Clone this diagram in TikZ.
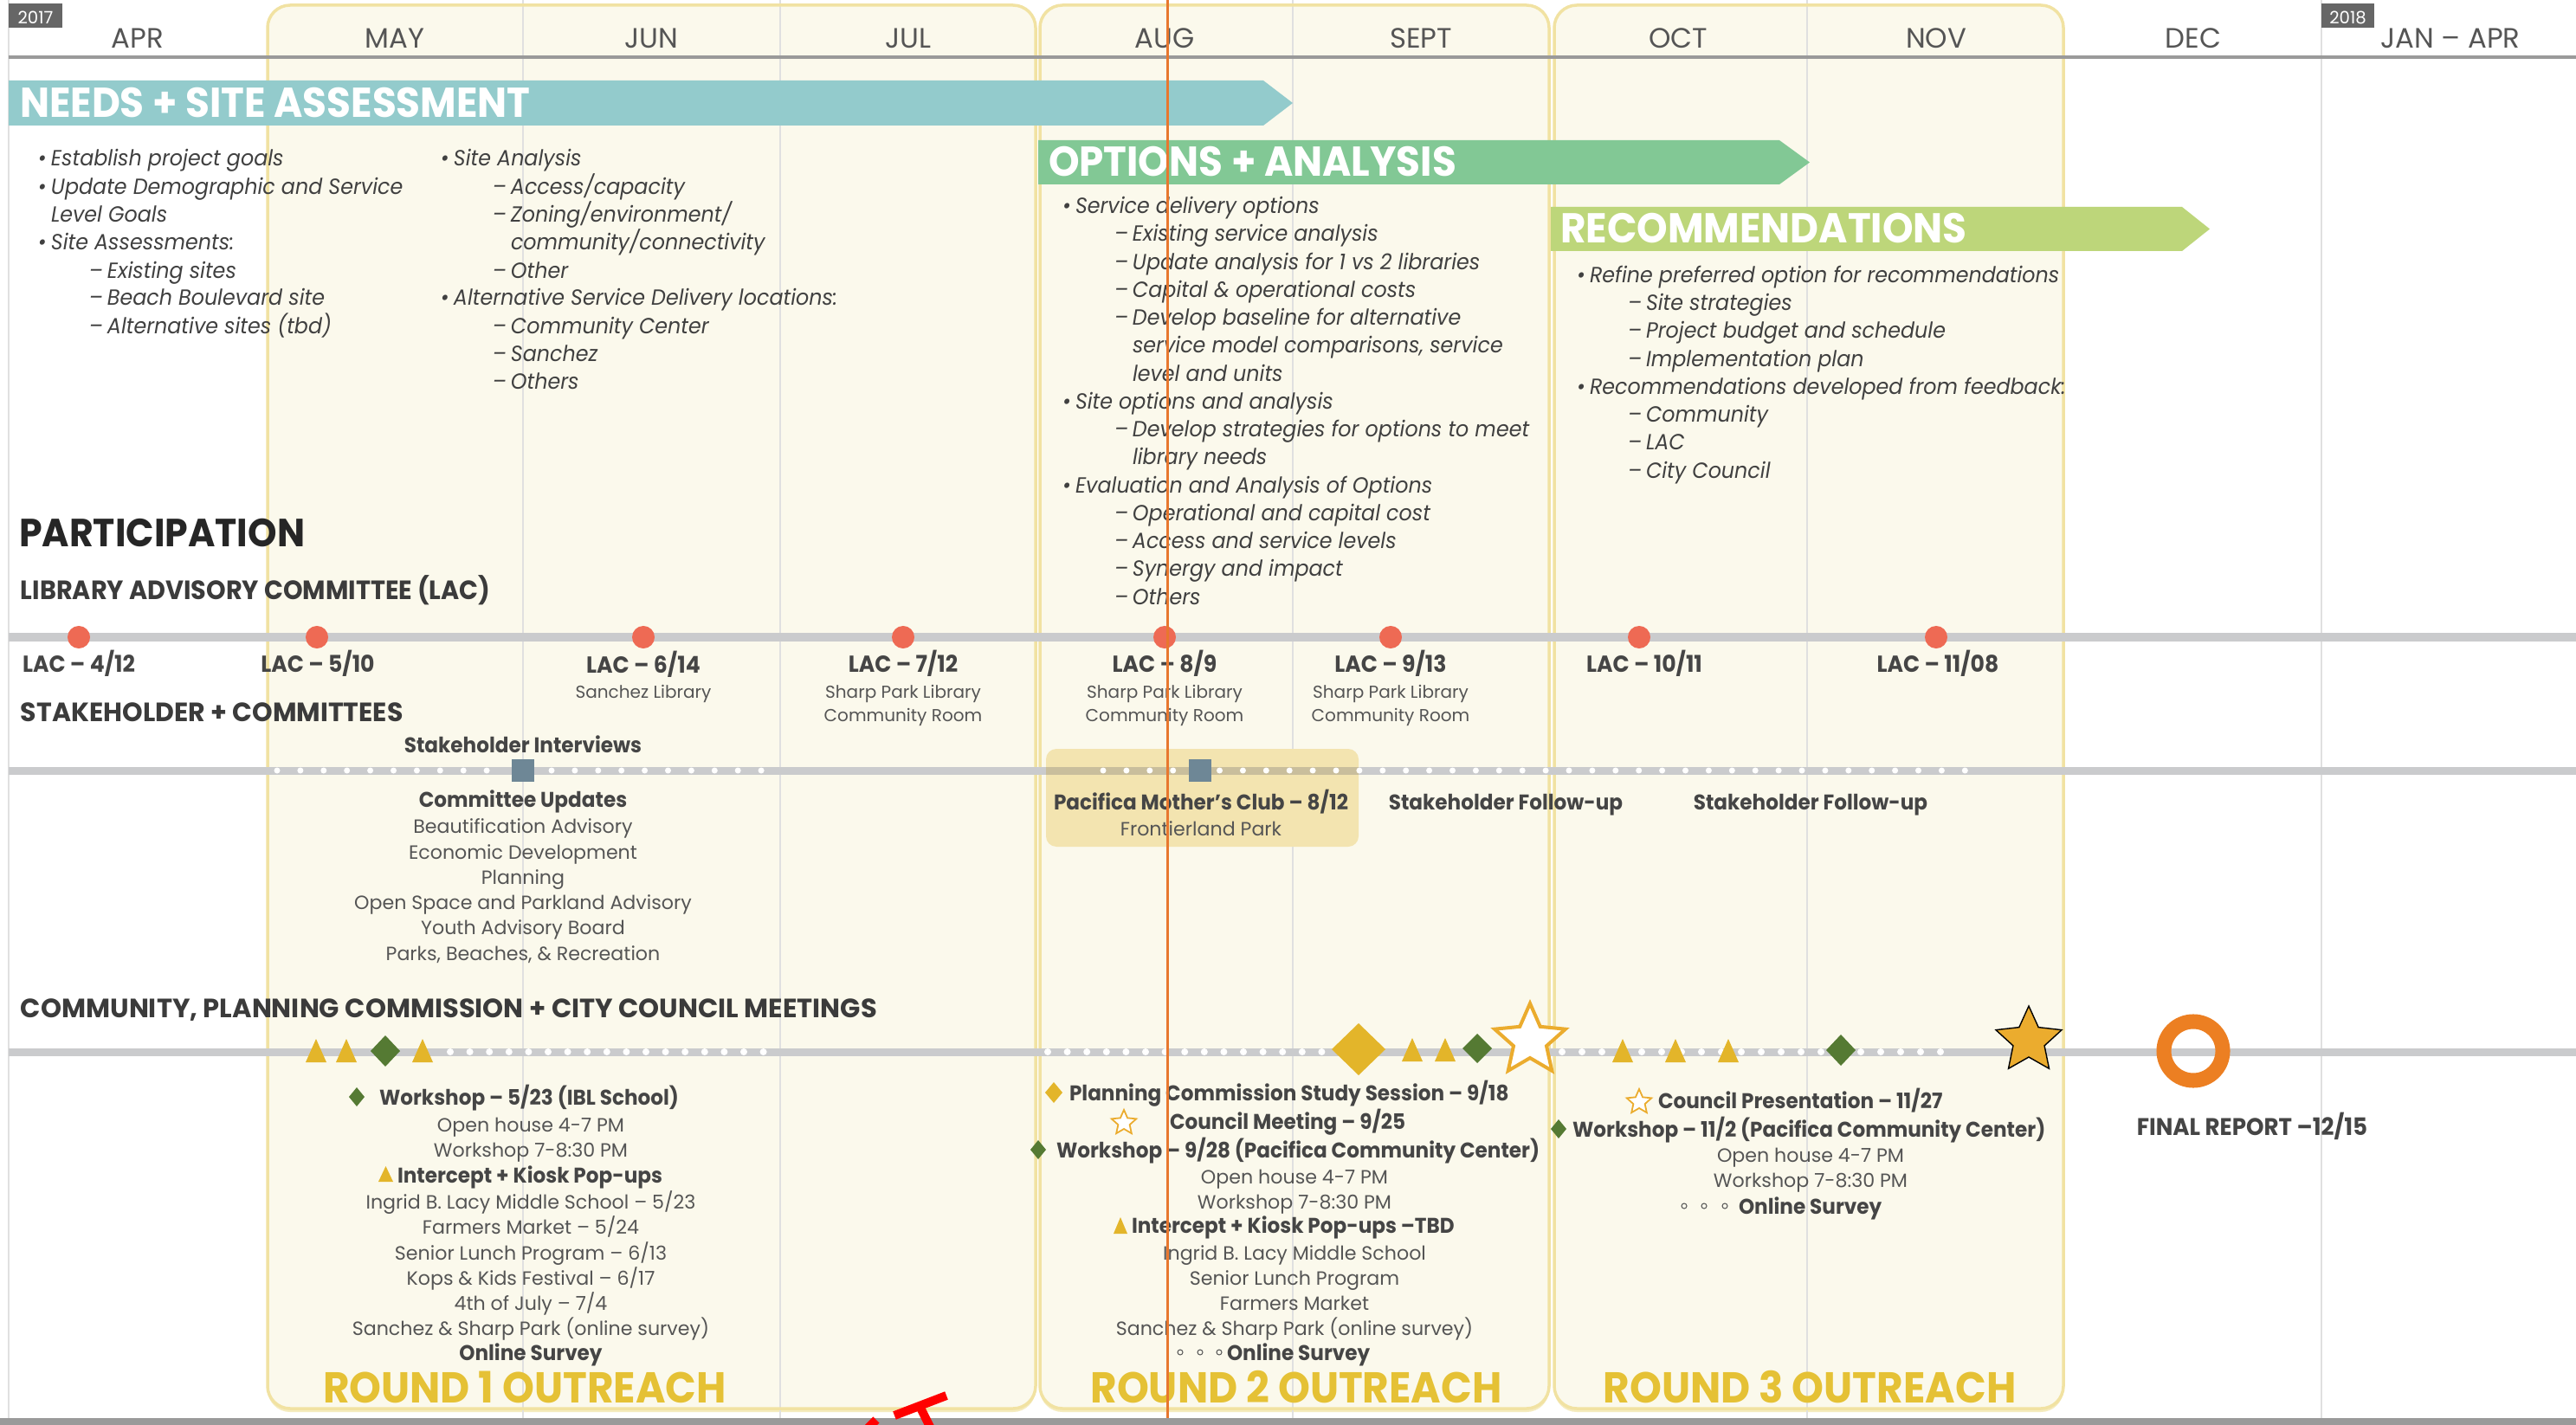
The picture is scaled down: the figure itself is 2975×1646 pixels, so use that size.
\documentclass[tikz,border=0pt]{standalone}
\usepackage{fontspec}
\setmainfont{Poppins}[BoldFeatures={FakeStretch=0.94}, ItalicFeatures={FakeStretch=0.94}]
\usetikzlibrary{shapes.geometric}
\definecolor{cream}{HTML}{FBF9EC}
\definecolor{panelline}{HTML}{F1E2A2}
\definecolor{gridc}{HTML}{E0E0E0}
\definecolor{tealc}{HTML}{93CBCC}
\definecolor{optc}{HTML}{82C895}
\definecolor{recc}{HTML}{BDD67A}
\definecolor{orangeline}{HTML}{E8772E}
\definecolor{barc}{HTML}{CACBCD}
\definecolor{barintan}{HTML}{C9BE9C}
\definecolor{lacred}{HTML}{EE6A54}
\definecolor{slate}{HTML}{6E8796}
\definecolor{tanc}{HTML}{F3E4B0}
\definecolor{goldc}{HTML}{E3B52A}
\definecolor{dgreen}{HTML}{557A33}
\definecolor{stargold}{HTML}{EBAC2E}
\definecolor{ringc}{HTML}{EC7F22}
\definecolor{roundgold}{HTML}{E5C135}
\definecolor{txtdark}{HTML}{404040}
\definecolor{headc}{HTML}{3B3B3B}
\definecolor{labc}{HTML}{454545}
\definecolor{subc}{HTML}{555555}
\definecolor{monthc}{HTML}{555555}
\definecolor{yearc}{HTML}{666666}
\definecolor{hdrline}{HTML}{9A9A9A}
\newcommand\bu{\llap{\makebox[0.15cm][l]{•}}}
\newcommand\da{\llap{\makebox[0.21cm][l]{–}}}
\newcommand\drawstar[5]{\draw[#5] plot[samples at={0,1,...,9}, variable=\k] ({#1+(#3*(1-mod(\k,2))+#4*mod(\k,2))*cos(270+36*\k)}, {#2+(#3*(1-mod(\k,2))+#4*mod(\k,2))*sin(270+36*\k)}) -- cycle;}
\newcommand\diam[5]{\fill[#5] (#1-#3,#2) -- (#1,#2-#4) -- (#1+#3,#2) -- (#1,#2+#4) -- cycle;}
\newcommand\tri[5]{\fill[#5] (#1-#3/2,#2) -- (#1,#2-#4) -- (#1+#3/2,#2) -- cycle;}
\tikzset{
  every node/.style={inner sep=0pt, outer sep=0pt},
  itxt/.style={font=\fontsize{7.2pt}{9pt}\selectfont\itshape, text=txtdark, anchor=mid west},
  month/.style={font=\fontsize{9.2pt}{10pt}\selectfont, text=monthc, anchor=mid},
  yeart/.style={font=\fontsize{5.6pt}{6pt}\selectfont, text=white, anchor=mid},
  banner/.style={font=\fontsize{13.7pt}{15pt}\selectfont\bfseries, text=white, anchor=mid west},
  bighead/.style={font=\fontsize{12.9pt}{14pt}\selectfont\bfseries, text=black!85, anchor=mid west},
  head/.style={font=\fontsize{8.7pt}{10pt}\selectfont\bfseries, text=headc, anchor=mid west},
  laclab/.style={font=\fontsize{7.6pt}{8pt}\selectfont\bfseries, text=labc, anchor=mid},
  sublab/.style={font=\fontsize{5.7pt}{7pt}\selectfont, text=subc, anchor=mid},
  boldc/.style={font=\fontsize{7pt}{8pt}\selectfont\bfseries, text=labc, anchor=mid},
  boldw/.style={font=\fontsize{7pt}{8pt}\selectfont\bfseries, text=labc, anchor=mid west},
  regc/.style={font=\fontsize{6.3pt}{8pt}\selectfont, text=subc, anchor=mid},
  roundt/.style={font=\fontsize{14.2pt}{15pt}\selectfont\bfseries, text=roundgold, anchor=mid},
  finalt/.style={font=\fontsize{7.9pt}{9pt}\selectfont\bfseries, text=labc, anchor=mid},
  lacdot/.style={circle, fill=lacred, minimum size=0.26cm},
  sqmark/.style={rectangle, fill=slate, minimum width=0.26cm, minimum height=0.26cm},
  barline/.style={barc, line width=0.09cm},
  panel/.style={rounded corners=0.26cm},
}
\begin{document}
\begin{tikzpicture}[x=0.01cm,y=-0.01cm]
\useasboundingbox (0,0) rectangle (2975,1646);
\fill[white] (0,0) rectangle (2975,1646);
% panels
\fill[panelline!70, panel] (309,9) rectangle (1196,1631);
\fill[panelline!70, panel] (1201,9) rectangle (1789,1631);
\fill[panelline!70, panel] (1795,9) rectangle (2383,1631);
\fill[cream, panel] (309,6) rectangle (1196,1627);
\fill[cream, panel] (1201,6) rectangle (1789,1627);
\fill[cream, panel] (1795,6) rectangle (2383,1627);
% grid lines
\foreach \gx in {10,604,901,1493,2087,2681} {\draw[gridc, line width=0.015cm] (\gx,0) -- (\gx,1640);}
\draw[panelline, panel, line width=0.035cm] (309,6) rectangle (1196,1627);
\draw[panelline, panel, line width=0.035cm] (1201,6) rectangle (1789,1627);
\draw[panelline, panel, line width=0.035cm] (1795,6) rectangle (2383,1627);
% header
\draw[hdrline, line width=0.04cm] (10,66) -- (2975,66);
\fill[yearc] (10,4) rectangle (72,32);
\node[yeart] (y17) at (41,18) {2017};
\fill[yearc] (2681,4) rectangle (2742,32);
\node[yeart] (y18) at (2711.5,18) {2018};
\node[month] (mapr) at (159,46) {APR};
\node[month] (mmay) at (456,46) {MAY};
\node[month] (mjun) at (752,46) {JUN};
\node[month] (mjul) at (1049,46) {JUL};
\node[month] (maug) at (1345,46) {AUG};
\node[month] (msep) at (1641,46) {SEPT};
\node[month] (moct) at (1938,46) {OCT};
\node[month] (mnov) at (2236,46) {NOV};
\node[month] (mdec) at (2533,46) {DEC};
\node[month] (mjan) at (2830,46) {JAN – APR};
% banners
\fill[tealc] (10,93) -- (1459,93) -- (1493,119) -- (1459,145) -- (10,145) -- cycle;
\node[banner] (bneeds) at (23,126) {NEEDS + SITE ASSESSMENT};
\fill[optc] (1199,162) -- (2055,162) -- (2090,187.5) -- (2055,213) -- (1199,213) -- cycle;
\node[banner] (bopt) at (1211,194) {OPTIONS + ANALYSIS};
\fill[recc] (1791,239) -- (2520,239) -- (2552,264.5) -- (2520,290) -- (1791,290) -- cycle;
\node[banner] (brec) at (1802,271) {RECOMMENDATIONS};
% needs lists
\node[itxt] (n1) at (59,182) {\bu Establish project goals};
\node[itxt] (n2) at (59,215) {\bu Update Demographic and Service};
\node[itxt] (n3) at (59,247) {Level Goals};
\node[itxt] (n4) at (59,279) {\bu Site Assessments:};
\node[itxt] (n5) at (124,312) {\da Existing sites};
\node[itxt] (n6) at (124,343) {\da Beach Boulevard site};
\node[itxt] (n7) at (124,376) {\da Alternative sites (tbd)};
\node[itxt] (s1) at (524,182) {\bu Site Analysis};
\node[itxt] (s2) at (590,215) {\da Access/capacity};
\node[itxt] (s3) at (590,247) {\da Zoning/environment/};
\node[itxt] (s4) at (590,279) {community/connectivity};
\node[itxt] (s5) at (590,312) {\da Other};
\node[itxt] (s6) at (524,343) {\bu Alternative Service Delivery locations:};
\node[itxt] (s7) at (590,376) {\da Community Center};
\node[itxt] (s8) at (590,408) {\da Sanchez};
\node[itxt] (s9) at (590,440) {\da Others};
% options list
\node[itxt] (o1) at (1242,237) {\bu Service delivery options};
\node[itxt] (o2) at (1308,269) {\da Existing service analysis};
\node[itxt] (o3) at (1308,302) {\da Update analysis for 1 vs 2 libraries};
\node[itxt] (o4) at (1308,334) {\da Capital \& operational costs};
\node[itxt] (o5) at (1308,366) {\da Develop baseline for alternative};
\node[itxt] (o6) at (1308,398) {service model comparisons, service};
\node[itxt] (o7) at (1308,431) {level and units};
\node[itxt] (o8) at (1242,463) {\bu Site options and analysis};
\node[itxt] (o9) at (1308,495) {\da Develop strategies for options to meet};
\node[itxt] (o10) at (1308,527) {library needs};
\node[itxt] (o11) at (1242,560) {\bu Evaluation and Analysis of Options};
\node[itxt] (o12) at (1308,592) {\da Operational and capital cost};
\node[itxt] (o13) at (1308,624) {\da Access and service levels};
\node[itxt] (o14) at (1308,656) {\da Synergy and impact};
\node[itxt] (o15) at (1308,689) {\da Others};
% recommendations list
\node[itxt] (r1) at (1836,317) {\bu Refine preferred option for recommendations};
\node[itxt] (r2) at (1901,349) {\da Site strategies};
\node[itxt] (r3) at (1901,381) {\da Project budget and schedule};
\node[itxt] (r4) at (1901,414) {\da Implementation plan};
\node[itxt] (r5) at (1836,446) {\bu Recommendations developed from feedback:};
\node[itxt] (r6) at (1901,478) {\da Community};
\node[itxt] (r7) at (1901,510) {\da LAC};
\node[itxt] (r8) at (1901,543) {\da City Council};
% participation
\node[bighead] (part) at (22,622) {PARTICIPATION};
\node[head] (hlac) at (24,683) {LIBRARY ADVISORY COMMITTEE (LAC)};
\node[head] (hstk) at (24,824) {\scalebox{1.044}[1]{STAKEHOLDER + COMMITTEES}};
\node[head] (hcom) at (24,1166) {\scalebox{1.063}[1]{COMMUNITY, PLANNING COMMISSION + CITY COUNCIL MEETINGS}};
% LAC line
\draw[barline] (10,736) -- (2975,736);
\node[lacdot] (d1) at (91,736) {};
\node[lacdot] (d2) at (366,736) {};
\node[lacdot] (d3) at (743,736) {};
\node[lacdot] (d4) at (1043,736) {};
\node[lacdot] (d5) at (1345,736) {};
\node[lacdot] (d6) at (1606,736) {};
\node[lacdot] (d7) at (1893,736) {};
\node[lacdot] (d8) at (2236,736) {};
\node[laclab] (l1) at (91,767) {LAC – 4/12};
\node[laclab] (l2) at (367,767) {LAC – 5/10};
\node[laclab] (l3) at (743,768) {LAC – 6/14};
\node[sublab] (l3a) at (743,797) {Sanchez Library};
\node[laclab] (l4) at (1043,767) {LAC – 7/12};
\node[sublab] (l4a) at (1043,797) {Sharp Park Library};
\node[sublab] (l4b) at (1043,824) {Community Room};
\node[laclab] (l5) at (1345,767) {LAC – 8/9};
\node[sublab] (l5a) at (1345,797) {Sharp Park Library};
\node[sublab] (l5b) at (1345,824) {Community Room};
\node[laclab] (l6) at (1606,767) {LAC – 9/13};
\node[sublab] (l6a) at (1606,797) {Sharp Park Library};
\node[sublab] (l6b) at (1606,824) {Community Room};
\node[laclab] (l7) at (1899,767) {LAC – 10/11};
\node[laclab] (l8) at (2238,767) {LAC – 11/08};
% stakeholder line
\draw[barline] (10,890) -- (2975,890);
\fill[tanc, rounded corners=0.12cm] (1208,865) rectangle (1569,978);
\draw[barintan, line width=0.09cm] (1208,890) -- (1569,890);
\foreach \k in {0,...,9} {\fill[white] ({320+26.9*\k},890) circle (0.035cm);}
\foreach \k in {0,...,9} {\fill[white] ({637+26.9*\k},890) circle (0.035cm);}
\foreach \k in {0,1,2,3,5,6,7,8,9,10,11,12,13,14,15,16,17,18,19,20,21,22,23,24,25,26,27,28,29,30,31,32,33,34,35,36,37} {\fill[white] ({1274+26.9*\k},890) circle (0.035cm);}
\node[sqmark] (sq1) at (604,890) {};
\node[sqmark] (sq2) at (1385.5,890) {};
\node[boldc] (si) at (604,860) {Stakeholder Interviews};
\node[boldc] (cu) at (604,923) {Committee Updates};
\node[regc] (cu1) at (604,953) {Beautification Advisory};
\node[regc] (cu2) at (604,983) {Economic Development};
\node[regc] (cu3) at (604,1012) {Planning};
\node[regc] (cu4) at (604,1041) {Open Space and Parkland Advisory};
\node[regc] (cu5) at (604,1070) {Youth Advisory Board};
\node[regc] (cu6) at (604,1100) {Parks, Beaches, \& Recreation};
\node[boldc] (pmc) at (1387,926) {Pacifica Mother’s Club – 8/12};
\node[regc] (pmc2) at (1387,956) {Frontierland Park};
\node[boldc] (sf1) at (1739,926) {Stakeholder Follow-up};
\node[boldc] (sf2) at (2091,926) {Stakeholder Follow-up};
% community line
\draw[barline] (10,1215) -- (2975,1215);
\foreach \k in {0,...,16} {\fill[white] ({520+22.6*\k},1215) circle (0.04cm);}
\foreach \k in {0,...,14} {\fill[white] ({1210+22.6*\k},1215) circle (0.04cm);}
\foreach \k in {0,...,19} {\fill[white] ({1804+23*\k},1215) circle (0.04cm);}
\tri{365}{1227}{24}{27}{goldc}
\tri{400}{1227}{24}{27}{goldc}
\diam{445}{1214}{17}{18}{dgreen}
\tri{488}{1227}{24}{27}{goldc}
\diam{1569}{1212}{31}{30}{goldc}
\tri{1631}{1226}{24}{27}{goldc}
\tri{1669}{1226}{24}{27}{goldc}
\diam{1706}{1211}{17}{17}{dgreen}
\drawstar{1767}{1202}{43}{20}{fill=white, draw=stargold, line width=0.04cm}
\tri{1874}{1227}{24}{27}{goldc}
\tri{1935}{1227}{24}{27}{goldc}
\tri{1996}{1227}{24}{27}{goldc}
\diam{2126}{1213}{17}{18}{dgreen}
\drawstar{2343}{1202}{40}{19}{fill=stargold}
\draw[ringc, line width=0.17cm] (2533,1214) circle (0.34cm);
% round 1 text
\diam{412}{1267}{9}{11}{dgreen}
\node[boldw] (w1) at (438,1267) {Workshop – 5/23 (IBL School)};
\node[regc] (w1a) at (613,1298) {Open house 4-7 PM};
\node[regc] (w1b) at (613,1327) {Workshop 7-8:30 PM};
\tri{445.5}{1365}{17}{18}{goldc}
\node[boldw] (k1) at (459,1357) {Intercept + Kiosk Pop-ups};
\node[regc] (k1a) at (613,1387) {Ingrid B. Lacy Middle School – 5/23};
\node[regc] (k1b) at (613,1416) {Farmers Market – 5/24};
\node[regc] (k1c) at (613,1446) {Senior Lunch Program – 6/13};
\node[regc] (k1d) at (613,1475) {Kops \& Kids Festival – 6/17};
\node[regc] (k1e) at (613,1504) {4th of July – 7/4};
\node[regc] (k1f) at (613,1533) {Sanchez \& Sharp Park (online survey)};
\node[boldc] (os1) at (613,1562) {Online Survey};
\node[roundt] (rd1) at (606,1611) {ROUND 1 OUTREACH};
% round 2 text
\diam{1217}{1262}{10}{12}{goldc}
\node[boldw] (pc) at (1235,1262) {Planning Commission Study Session – 9/18};
\drawstar{1298}{1297}{15}{7}{fill=white, draw=stargold, line width=0.018cm}
\node[boldw] (cm) at (1351,1295) {Council Meeting – 9/25};
\diam{1199}{1328}{9}{11}{dgreen}
\node[boldw] (w2) at (1220,1328) {Workshop – 9/28 (Pacifica Community Center)};
\node[regc] (w2a) at (1495,1358) {Open house 4-7 PM};
\node[regc] (w2b) at (1495,1387) {Workshop 7-8:30 PM};
\tri{1294}{1425}{16}{19}{goldc}
\node[boldw] (k2) at (1307,1415) {Intercept + Kiosk Pop-ups –TBD};
\node[regc] (k2a) at (1495,1446) {Ingrid B. Lacy Middle School};
\node[regc] (k2b) at (1495,1475) {Senior Lunch Program};
\node[regc] (k2c) at (1495,1504) {Farmers Market};
\node[regc] (k2d) at (1495,1533) {Sanchez \& Sharp Park (online survey)};
\foreach \cx in {1363,1386,1408} {\draw[subc, line width=0.01cm] (\cx,1562) circle (0.03cm);}
\node[boldw] (os2) at (1417,1562) {Online Survey};
\node[roundt] (rd2) at (1497,1611) {ROUND 2 OUTREACH};
% round 3 text
\drawstar{1893}{1273}{15}{7}{fill=white, draw=stargold, line width=0.018cm}
\node[boldw] (cp) at (1915,1271) {Council Presentation – 11/27};
\diam{1800}{1304}{9}{11}{dgreen}
\node[boldw] (w3) at (1816,1304) {Workshop – 11/2 (Pacifica Community Center)};
\node[regc] (w3a) at (2091,1333) {Open house 4-7 PM};
\node[regc] (w3b) at (2091,1362) {Workshop 7-8:30 PM};
\foreach \cx in {1945,1968,1992} {\draw[subc, line width=0.01cm] (\cx,1393) circle (0.03cm);}
\node[boldw] (os3) at (2008,1393) {Online Survey};
\node[roundt] (rd3) at (2090,1611) {ROUND 3 OUTREACH};
\node[finalt] (fr) at (2601,1302) {FINAL REPORT –12/15};
% orange current-date line
\draw[orangeline, line width=0.03cm] (1348,0) -- (1348,1646);
% bottom line and red mark
\draw[hdrline, line width=0.08cm] (0,1642) -- (2975,1642);
\draw[red, line width=0.1cm] (1033,1635) -- (1093,1612);
\draw[red, line width=0.1cm] (1062,1624) -- (1076,1652);
\draw[red, line width=0.1cm] (1000,1652) -- (1012,1640);
\end{tikzpicture}
\end{document}
